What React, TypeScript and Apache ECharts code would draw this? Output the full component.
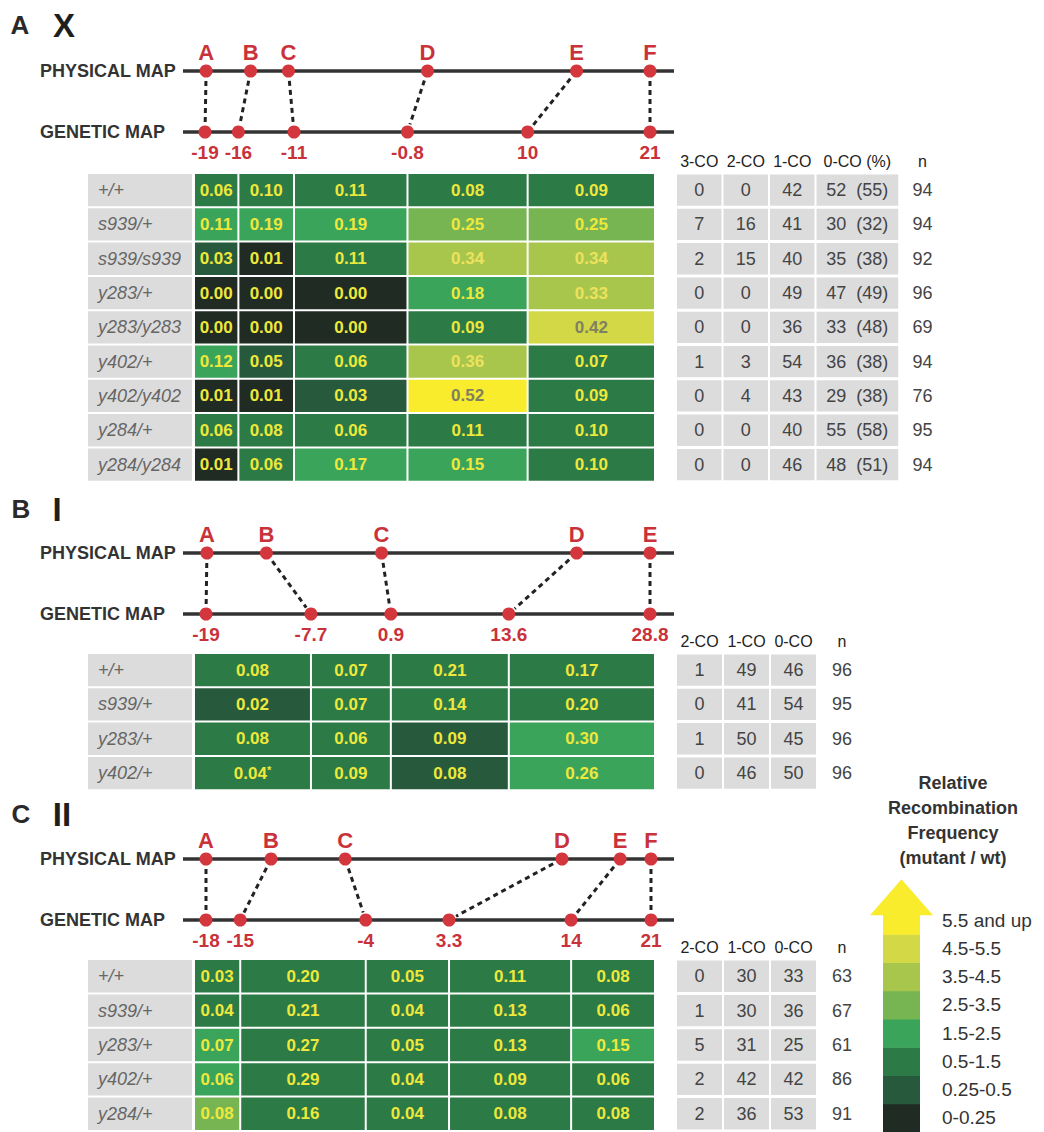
import React, { useEffect, useRef } from "react";
import * as echarts from "echarts";

const FONT = "'Liberation Sans', Arial, Helvetica, sans-serif";
const RED = "#c9323a";
const DOT = "#d3363c";
const INK = "#333333";

// ---------- Legend: relative recombination frequency (mutant / wt) ----------
const levelLabels = ["0-0.25", "0.25-0.5", "0.5-1.5", "1.5-2.5", "2.5-3.5", "3.5-4.5", "4.5-5.5", "5.5 and up"];
const levelColors = ["#1f2b23", "#275a3d", "#2c7a46", "#3ba45b", "#77b553", "#a9c64c", "#d2d846", "#f9ec2c"];
const levelTextColors = ["#eee83c", "#eee83c", "#eee83c", "#eee83c", "#eee83c", "#ede25c", "#7f7f62", "#7f7f62"];

// ---------- Panel A: chromosome X ----------
const xMarkers = ["A", "B", "C", "D", "E", "F"];
const xPhysical = [-18.9, -14.9, -11.5, 1.0, 14.4, 21];
const xGenetic = [-19, -16, -11, -0.8, 10, 21];
const xGenotypes = ["+/+", "s939/+", "s939/s939", "y283/+", "y283/y283", "y402/+", "y402/y402", "y284/+", "y284/y284"];
const xFreq = [
  [0.06, 0.10, 0.11, 0.08, 0.09],
  [0.11, 0.19, 0.19, 0.25, 0.25],
  [0.03, 0.01, 0.11, 0.34, 0.34],
  [0.00, 0.00, 0.00, 0.18, 0.33],
  [0.00, 0.00, 0.00, 0.09, 0.42],
  [0.12, 0.05, 0.06, 0.36, 0.07],
  [0.01, 0.01, 0.03, 0.52, 0.09],
  [0.06, 0.08, 0.06, 0.11, 0.10],
  [0.01, 0.06, 0.17, 0.15, 0.10],
];
const xLevel = [
  [2, 2, 2, 2, 2],
  [3, 3, 3, 4, 4],
  [1, 0, 2, 5, 5],
  [0, 0, 0, 3, 5],
  [0, 0, 0, 2, 6],
  [3, 1, 2, 5, 2],
  [0, 0, 1, 7, 2],
  [2, 2, 2, 2, 2],
  [0, 2, 3, 3, 2],
];
const xCO3 = [0, 7, 2, 0, 0, 1, 0, 0, 0];
const xCO2 = [0, 16, 15, 0, 0, 3, 4, 0, 0];
const xCO1 = [42, 41, 40, 49, 36, 54, 43, 40, 46];
const xCO0 = [52, 30, 35, 47, 33, 36, 29, 55, 48];
const xCO0Pct = [55, 32, 38, 49, 48, 38, 38, 58, 51];
const xN = [94, 94, 92, 96, 69, 94, 76, 95, 94];

// ---------- Panel B: chromosome I ----------
const iMarkers = ["A", "B", "C", "D", "E"];
const iPhysical = [-18.9, -12.5, -0.1, 20.9, 28.8];
const iGenetic = [-19, -7.7, 0.9, 13.6, 28.8];
const iGenotypes = ["+/+", "s939/+", "y283/+", "y402/+"];
const iFreq = [
  [0.08, 0.07, 0.21, 0.17],
  [0.02, 0.07, 0.14, 0.20],
  [0.08, 0.06, 0.09, 0.30],
  [0.04, 0.09, 0.08, 0.26],
];
const iLevel = [
  [2, 2, 2, 2],
  [1, 2, 2, 2],
  [2, 2, 1, 3],
  [2, 2, 1, 3],
];
const iStarred = [[3, 0]];
const iCO2 = [1, 0, 1, 0];
const iCO1 = [49, 41, 50, 46];
const iCO0 = [46, 54, 45, 50];
const iN = [96, 95, 96, 96];

// ---------- Panel C: chromosome II ----------
const iiMarkers = ["A", "B", "C", "D", "E", "F"];
const iiPhysical = [-18, -12.3, -5.8, 13.2, 18.3, 21];
const iiGenetic = [-18, -15, -4, 3.3, 14, 21];
const iiGenotypes = ["+/+", "s939/+", "y283/+", "y402/+", "y284/+"];
const iiFreq = [
  [0.03, 0.20, 0.05, 0.11, 0.08],
  [0.04, 0.21, 0.04, 0.13, 0.06],
  [0.07, 0.27, 0.05, 0.13, 0.15],
  [0.06, 0.29, 0.04, 0.09, 0.06],
  [0.08, 0.16, 0.04, 0.08, 0.08],
];
const iiLevel = [
  [2, 2, 2, 2, 2],
  [2, 2, 2, 2, 2],
  [3, 2, 2, 2, 3],
  [3, 2, 2, 2, 2],
  [4, 2, 2, 2, 2],
];
const iiCO2 = [0, 1, 5, 2, 2];
const iiCO1 = [30, 30, 31, 42, 36];
const iiCO0 = [33, 36, 25, 42, 53];
const iiN = [63, 67, 61, 86, 91];

type CountCol = { header: string; values: string[]; shaded: boolean; w: number };

const panels = [
  {
    letter: "A", chrom: "X",
    markers: xMarkers, physical: xPhysical, genetic: xGenetic,
    genotypes: xGenotypes, freq: xFreq, level: xLevel, starred: [] as number[][],
    counts: [
      { header: "3-CO", values: xCO3.map(String), shaded: true, w: 1 },
      { header: "2-CO", values: xCO2.map(String), shaded: true, w: 1 },
      { header: "1-CO", values: xCO1.map(String), shaded: true, w: 1 },
      { header: "0-CO (%)", values: xCO0.map((v, i) => `${v}  (${xCO0Pct[i]})`), shaded: true, w: 1.8 },
      { header: "n", values: xN.map(String), shaded: false, w: 1 },
    ] as CountCol[],
    layout: { letterY: 25, letterX: 20, chromX: 64, physY: 71, tableTop: 173, rowH: 34.3, g0px: 205, g1px: 650, unit: 46.5 },
  },
  {
    letter: "B", chrom: "I",
    markers: iMarkers, physical: iPhysical, genetic: iGenetic,
    genotypes: iGenotypes, freq: iFreq, level: iLevel, starred: iStarred,
    counts: [
      { header: "2-CO", values: iCO2.map(String), shaded: true, w: 1 },
      { header: "1-CO", values: iCO1.map(String), shaded: true, w: 1 },
      { header: "0-CO", values: iCO0.map(String), shaded: true, w: 1 },
      { header: "n", values: iN.map(String), shaded: false, w: 1.06 },
    ] as CountCol[],
    layout: { letterY: 509, letterX: 21, chromX: 57, physY: 553, tableTop: 653, rowH: 34.3, g0px: 206, g1px: 650, unit: 47 },
  },
  {
    letter: "C", chrom: "II",
    markers: iiMarkers, physical: iiPhysical, genetic: iiGenetic,
    genotypes: iiGenotypes, freq: iiFreq, level: iiLevel, starred: [] as number[][],
    counts: [
      { header: "2-CO", values: iiCO2.map(String), shaded: true, w: 1 },
      { header: "1-CO", values: iiCO1.map(String), shaded: true, w: 1 },
      { header: "0-CO", values: iiCO0.map(String), shaded: true, w: 1 },
      { header: "n", values: iiN.map(String), shaded: false, w: 1.06 },
    ] as CountCol[],
    layout: { letterY: 814, letterX: 21, chromX: 62, physY: 859, tableTop: 959, rowH: 34.4, g0px: 206, g1px: 651, unit: 47 },
  },
];

const MAP_LEFT = 183;
const MAP_RIGHT = 674;
const MAP_H = 61;
const HEAT_LEFT = 194;
const HEAT_RIGHT = 655;
const LABEL_W = 106;
const COUNT_LEFT = 676;

function buildOption() {
  const grid: any[] = [];
  const xAxis: any[] = [];
  const yAxis: any[] = [];
  const series: any[] = [];
  const graphic: any[] = [];

  const addGrid = (g: any, xa: any, ya: any) => {
    const i = grid.length;
    grid.push(g);
    xAxis.push({ gridIndex: i, ...xa });
    yAxis.push({ gridIndex: i, ...ya });
    return i;
  };

  panels.forEach((p) => {
    const L = p.layout;
    const g0 = p.genetic[0];
    const g1 = p.genetic[p.genetic.length - 1];
    const k = (L.g1px - L.g0px) / (g1 - g0);
    const toAxis = (px: number) => g0 + (px - L.g0px) / k;

    // panel letters
    graphic.push({
      type: "text", x: L.letterX, y: L.letterY, silent: true,
      style: { text: p.letter, fontSize: 26, fontWeight: "bold", fontFamily: FONT, fill: "#2a2a2a", align: "center", verticalAlign: "middle" },
    });
    graphic.push({
      type: "text", x: L.chromX, y: L.letterY, silent: true,
      style: { text: p.chrom, fontSize: 33, fontWeight: "bold", fontFamily: FONT, fill: "#1e1e1e", align: "center", verticalAlign: "middle" },
    });

    // ---- physical / genetic map ----
    const mapMin = toAxis(MAP_LEFT);
    const mapMax = toAxis(MAP_RIGHT);
    const mi = addGrid(
      { left: MAP_LEFT, top: L.physY, width: MAP_RIGHT - MAP_LEFT, height: MAP_H },
      { type: "value", min: mapMin, max: mapMax, show: false },
      {
        type: "value", min: 0, max: 1, interval: 1,
        axisLine: { show: false }, axisTick: { show: false }, splitLine: { show: false },
        axisLabel: {
          showMinLabel: true, showMaxLabel: true,
          formatter: (v: number) => (v === 1 ? "PHYSICAL MAP" : "GENETIC MAP"),
          align: "left", margin: MAP_LEFT - 40, color: INK, fontWeight: "bold", fontSize: 18, fontFamily: FONT,
        },
      }
    );
    [1, 0].forEach((lv) =>
      series.push({
        type: "line", xAxisIndex: mi, yAxisIndex: mi, silent: true, clip: false, z: 1,
        data: [[mapMin, lv], [mapMax, lv]], symbol: "none",
        lineStyle: { color: "#333", width: 3.5 },
      })
    );
    series.push({
      type: "custom", xAxisIndex: mi, yAxisIndex: mi, silent: true, z: 2,
      encode: { x: [0, 1], y: [2, 3] },
      data: p.physical.map((v, i) => [v, p.genetic[i], 1, 0]),
      renderItem: (params: any, api: any) => {
        const a = api.coord([api.value(0), 1]);
        const b = api.coord([api.value(1), 0]);
        const dx = b[0] - a[0];
        const dy = b[1] - a[1];
        const len = Math.hypot(dx, dy);
        const s0 = 10 / len;
        const s1 = 8 / len;
        return {
          type: "line",
          shape: { x1: a[0] + dx * s0, y1: a[1] + dy * s0, x2: b[0] - dx * s1, y2: b[1] - dy * s1 },
          style: { stroke: "#222", lineWidth: 3, lineDash: [5, 4] },
        };
      },
    });
    series.push({
      type: "scatter", xAxisIndex: mi, yAxisIndex: mi, silent: true, clip: false, z: 3,
      data: p.physical.map((v, i) => ({ value: [v, 1], name: p.markers[i] })),
      symbolSize: 13, itemStyle: { color: DOT, opacity: 1 },
      label: { show: true, position: "top", distance: 1, formatter: "{b}", color: RED, fontWeight: "bold", fontSize: 22, fontFamily: FONT },
    });
    series.push({
      type: "scatter", xAxisIndex: mi, yAxisIndex: mi, silent: true, clip: false, z: 3,
      data: p.genetic.map((v) => [v, 0]),
      symbolSize: 13, itemStyle: { color: DOT, opacity: 1 },
      label: {
        show: true, position: "bottom", distance: 4,
        formatter: (d: any) => String(d.value[0]),
        color: RED, fontWeight: "bold", fontSize: 19, fontFamily: FONT,
      },
    });

    // ---- heat map table ----
    const nRows = p.genotypes.length;
    const heatMin = toAxis(HEAT_LEFT);
    const heatMax = toAxis(HEAT_RIGHT);
    const edges = [heatMin, ...p.genetic.slice(1, -1), heatMax];
    const hi = addGrid(
      { left: HEAT_LEFT, top: L.tableTop, width: HEAT_RIGHT - HEAT_LEFT, height: nRows * L.rowH },
      { type: "value", min: heatMin, max: heatMax, show: false },
      { type: "category", data: p.genotypes, inverse: true, show: false }
    );
    // genotype label cells
    series.push({
      type: "custom", xAxisIndex: hi, yAxisIndex: hi, silent: true,
      encode: { x: [0, 1], y: 2 },
      data: p.genotypes.map((_, r) => [heatMin, heatMin, r]),
      renderItem: (params: any, api: any) => {
        const r = api.value(2);
        const c = api.coord([heatMin, r]);
        const h = api.size([0, 1])[1];
        const left = params.coordSys.x - LABEL_W;
        return {
          type: "group",
          children: [
            { type: "rect", shape: { x: left, y: c[1] - h / 2 + 1, width: LABEL_W - 2, height: h - 2 }, style: { fill: "#dcdcdc" } },
            {
              type: "text",
              style: {
                text: p.genotypes[r], x: left + 10, y: c[1], align: "left", verticalAlign: "middle",
                fill: "#666", fontSize: 18, fontStyle: "italic", fontFamily: FONT,
              },
            },
          ],
        };
      },
    });
    // frequency cells
    const cells: number[][] = [];
    p.freq.forEach((row, r) =>
      row.forEach((v, c) => cells.push([edges[c], edges[c + 1], r, v, p.level[r][c], c]))
    );
    series.push({
      type: "custom", xAxisIndex: hi, yAxisIndex: hi, silent: true,
      encode: { x: [0, 1], y: 2 },
      data: cells,
      renderItem: (params: any, api: any) => {
        const r = api.value(2);
        const v = api.value(3);
        const lvl = api.value(4);
        const col = api.value(5);
        const a = api.coord([api.value(0), r]);
        const b = api.coord([api.value(1), r]);
        const h = api.size([0, 1])[1];
        const s = Number(v).toFixed(2);
        const star = p.starred.some((q) => q[0] === r && q[1] === col);
        const fill = levelTextColors[lvl];
        const textStyle: any = star
          ? {
              text: `{v|${s}}{s|*}`,
              rich: {
                v: { fontSize: 17, fontWeight: "bold", fill, fontFamily: FONT },
                s: { fontSize: 11, fontWeight: "bold", fill, fontFamily: FONT, verticalAlign: "top", padding: [0, 0, 6, 0] },
              },
            }
          : { text: s, fill, fontSize: 17, fontWeight: "bold", fontFamily: FONT };
        return {
          type: "group",
          children: [
            {
              type: "rect",
              shape: { x: a[0] + 1, y: a[1] - h / 2 + 1, width: b[0] - a[0] - 2, height: h - 2 },
              style: { fill: levelColors[lvl] },
            },
            {
              type: "text",
              style: { ...textStyle, x: (a[0] + b[0]) / 2, y: a[1], align: "center", verticalAlign: "middle" },
            },
          ],
        };
      },
    });

    // ---- crossover count table ----
    const cEdges = [0];
    p.counts.forEach((c) => cEdges.push(cEdges[cEdges.length - 1] + c.w));
    const units = cEdges[cEdges.length - 1];
    const ci = addGrid(
      { left: COUNT_LEFT, top: L.tableTop, width: units * L.unit, height: nRows * L.rowH },
      { type: "value", min: 0, max: units, show: false },
      { type: "category", data: p.genotypes, inverse: true, show: false }
    );
    const countData: number[][] = [];
    p.counts.forEach((_, c) => {
      countData.push([cEdges[c], cEdges[c + 1], 0, c, 1]);
      p.genotypes.forEach((__, r) => countData.push([cEdges[c], cEdges[c + 1], r, c, 0]));
    });
    series.push({
      type: "custom", xAxisIndex: ci, yAxisIndex: ci, silent: true,
      encode: { x: [0, 1], y: 2 },
      data: countData,
      renderItem: (params: any, api: any) => {
        const r = api.value(2);
        const c = api.value(3);
        const isHeader = api.value(4) === 1;
        const a = api.coord([api.value(0), r]);
        const b = api.coord([api.value(1), r]);
        const h = api.size([0, 1])[1];
        const col = p.counts[c];
        const cx = (a[0] + b[0]) / 2;
        if (isHeader) {
          return {
            type: "text",
            style: {
              text: col.header, x: cx, y: params.coordSys.y - 12, align: "center", verticalAlign: "middle",
              fill: "#222", fontSize: 16, fontFamily: FONT,
            },
          };
        }
        const children: any[] = [];
        if (col.shaded) {
          children.push({
            type: "rect",
            shape: { x: a[0] + 1, y: a[1] - h / 2 + 1.5, width: b[0] - a[0] - 2, height: h - 3 },
            style: { fill: "#dcdcdc" },
          });
        }
        children.push({
          type: "text",
          style: {
            text: col.values[r], x: cx, y: a[1], align: "center", verticalAlign: "middle",
            fill: "#444", fontSize: 18, fontFamily: FONT,
          },
        });
        return { type: "group", children };
      },
    });
  });

  // ---- legend (colour key) ----
  const li = addGrid(
    { left: 883, top: 906, width: 37, height: 226 },
    { type: "value", min: 0, max: 1, show: false },
    {
      type: "category", data: levelLabels, position: "right",
      axisLine: { show: false }, axisTick: { show: false }, splitLine: { show: false },
      axisLabel: { margin: 22, fontSize: 19, color: INK, fontFamily: FONT, interval: 0, padding: [8, 0, 0, 0] },
    }
  );
  series.push({
    type: "custom", xAxisIndex: li, yAxisIndex: li, silent: true,
    encode: { x: [0, 1], y: 2 },
    data: levelLabels.map((_, i) => [0, 1, i]),
    renderItem: (params: any, api: any) => {
      const i = api.value(2);
      const a = api.coord([0, i]);
      const b = api.coord([1, i]);
      const h = api.size([0, 1])[1];
      const children: any[] = [
        { type: "rect", shape: { x: a[0], y: a[1] - h / 2, width: b[0] - a[0], height: h + 0.5 }, style: { fill: levelColors[i] } },
      ];
      if (i === levelLabels.length - 1) {
        const cx = (a[0] + b[0]) / 2;
        const baseY = a[1] + h / 2 - 19;
        children.push({
          type: "polygon",
          shape: { points: [[cx - 31.5, baseY], [cx + 31.5, baseY], [cx, baseY - 36]] },
          style: { fill: levelColors[i] },
        });
      }
      return { type: "group", children };
    },
  });

  graphic.push({
    type: "text", x: 953, y: 770, silent: true,
    style: {
      text: "Relative\nRecombination\nFrequency\n(mutant / wt)",
      align: "center", verticalAlign: "top", lineHeight: 25,
      fontSize: 18, fontWeight: "bold", fontFamily: FONT, fill: INK,
    },
  });

  return {
    animation: false,
    backgroundColor: "#ffffff",
    grid, xAxis, yAxis, series, graphic,
  };
}

export default function App() {
  const ref = useRef<HTMLDivElement>(null);
  useEffect(() => {
    document.body.style.margin = "0";
    if (!ref.current) return;
    const chart = echarts.init(ref.current, undefined, { renderer: "svg" });
    chart.setOption(buildOption() as any);
    return () => chart.dispose();
  }, []);
  return <div ref={ref} style={{ width: 1044, height: 1132 }} />;
}
